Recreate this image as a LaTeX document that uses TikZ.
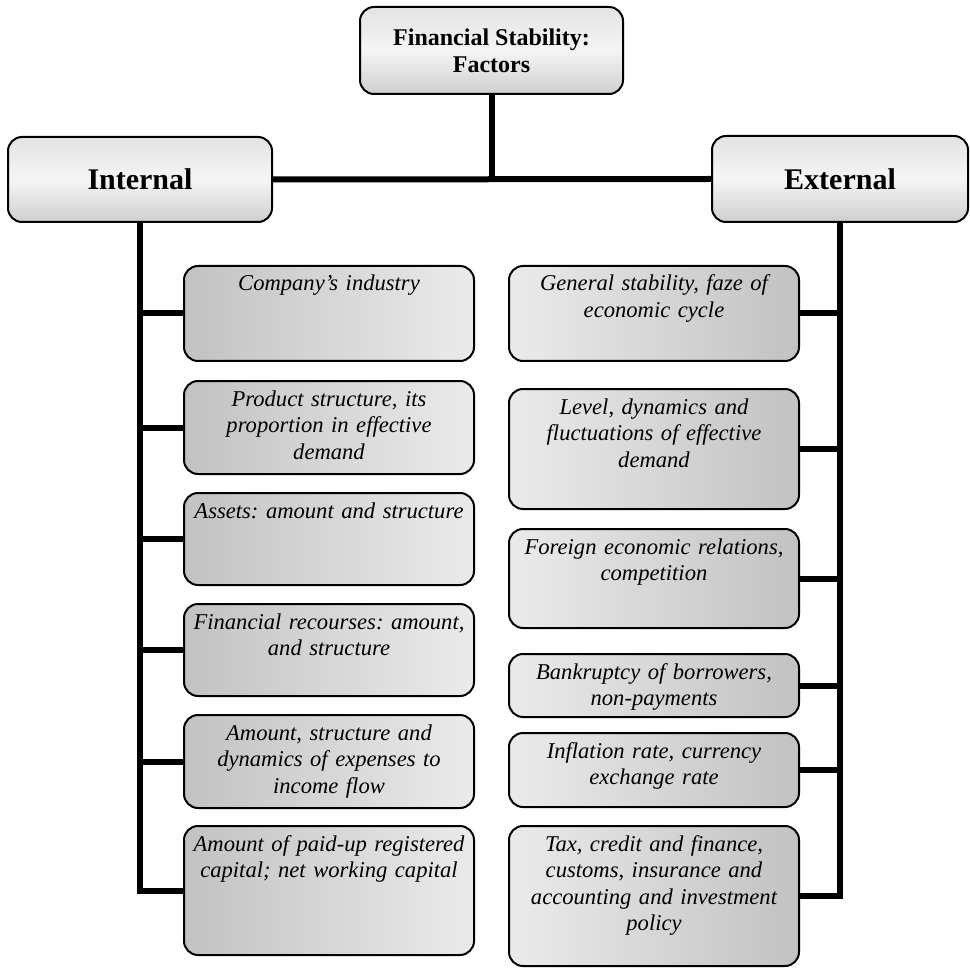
\documentclass[tikz,border=0pt]{standalone}
\usepackage{fontspec}
\setmainfont{Liberation Serif}
\usepackage{tikz}
\usetikzlibrary{positioning}
\frenchspacing

\definecolor{boxdark}{gray}{0.76}
\definecolor{boxlight}{gray}{0.92}

\begin{document}
\begin{tikzpicture}[x=0.5pt, y=-0.5pt,
		conn/.style={line width=3pt},
		basebox/.style={draw, line width=1pt, rounded corners=7pt, align=center},
		headbox/.style={basebox, top color=gray!22, bottom color=gray!38, middle color=gray!8, font=\bfseries},
		itembox/.style={basebox, anchor=north, text width=138pt, inner xsep=3.5pt, inner ysep=4.5pt,
			text height=8pt, font=\itshape\fontsize{11.3}{13.3}\selectfont},
		leftbox/.style={itembox, left color=boxdark, right color=boxlight},
		rightbox/.style={itembox, left color=boxlight, right color=boxdark}]
	\useasboundingbox (0,0) rectangle (969,972);

	% Heads
	\node[headbox, minimum width=131.5pt, minimum height=43.5pt, font=\bfseries\fontsize{12}{13.5}\selectfont]
		(factors) at (491.5,50.5) {Financial Stability:\\Factors};
	\node[headbox, minimum width=132pt, minimum height=42.5pt, font=\bfseries\fontsize{15}{17}\selectfont]
		(internal) at (140,179.5) {Internal};
	\node[headbox, minimum width=128pt, minimum height=43pt, font=\bfseries\fontsize{15}{17}\selectfont]
		(external) at (840,179) {External};

	% Internal factors
	\node[leftbox, text depth=30.5pt] (industry) at (329,265) {Company’s industry};
	\node[leftbox, text depth=29.5pt] (product) at (329,380) {Product structure, its\\proportion in effective\\demand};
	\node[leftbox, text depth=29pt] (assets) at (329,492) {Assets: amount and structure};
	\node[leftbox, text depth=29pt] (resources) at (329,603) {Financial recourses: amount,\\and structure};
	\node[leftbox, text depth=29.5pt] (expenses) at (329,714) {Amount, structure and\\dynamics of expenses to\\income flow};
	\node[leftbox, text depth=47.5pt] (capital) at (329,825) {Amount of paid-up registered\\capital; net working capital};

	% External factors
	\node[rightbox, text depth=30.5pt] (stability) at (654,265) {General stability, faze of\\economic cycle};
	\node[rightbox, text depth=43pt] (demand) at (654,388) {Level, dynamics and\\fluctuations of effective\\demand};
	\node[rightbox, text depth=32.5pt] (foreign) at (654,528) {Foreign economic relations,\\competition};
	\node[rightbox, text depth=14.5pt] (bankruptcy) at (654,653) {Bankruptcy of borrowers,\\non-payments};
	\node[rightbox, text depth=20pt] (inflation) at (654,732) {Inflation rate, currency\\exchange rate};
	\node[rightbox, text depth=53pt] (policy) at (654,825) {Tax, credit and finance,\\customs, insurance and\\accounting and investment\\policy};

	% Connectors
	\draw[conn] (factors.south) -- (factors.south |- internal.east);
	\draw[conn] (internal.east) -- (external.west);
	\draw[conn] (internal.south) |- (capital.west);
	\foreach \b in {industry,product,assets,resources,expenses}
		\draw[conn] (\b.west) -- (\b.west -| internal.south);
	\draw[conn] (external.south) |- (policy.east);
	\foreach \b in {stability,demand,foreign,bankruptcy,inflation}
		\draw[conn] (\b.east) -- (\b.east -| external.south);
\end{tikzpicture}
\end{document}
